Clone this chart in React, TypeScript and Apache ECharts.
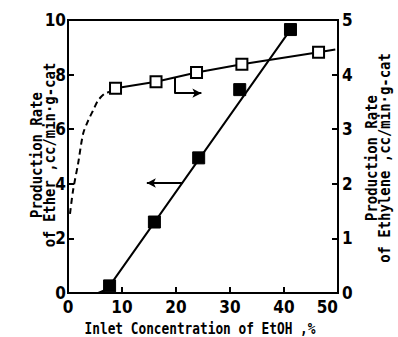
import React, { useEffect, useRef } from 'react';
import * as echarts from 'echarts';

// Inlet EtOH concentration (%) and production rates
const etherX = [7.7, 16.0, 24.2, 31.8, 41.2];
const etherY = [0.26, 2.6, 4.95, 7.45, 9.65];
const etherFitX = [5.6, 6.8, 7.7, 41.2];
const etherFitY = [0, 0.1, 0.26, 9.65];

const ethyleneX = [8.8, 16.3, 23.8, 32.2, 46.4];
const ethyleneY = [3.75, 3.87, 4.04, 4.19, 4.41];
const ethyleneLineX = [8.8, 16.3, 23.8, 32.2, 46.4, 49.5];
const ethyleneLineY = [3.75, 3.87, 4.04, 4.19, 4.41, 4.46];

const dashX = [0.37, 0.94, 1.87, 2.81, 3.75, 4.68, 5.6, 6.9, 7.9, 8.8];
const dashY = [1.45, 1.88, 2.37, 2.92, 3.16, 3.35, 3.53, 3.66, 3.69, 3.75];

const xAxisRange = [0, 50, 10];
const leftAxisRange = [0, 10, 2];
const rightAxisRange = [0, 5, 1];

const xTitle = 'Inlet Concentration of EtOH ,%';
const leftTitle = ['Production Rate', 'of Ether ,cc/min·g-cat'];
const rightTitle = ['Production Rate', 'of Ethylene ,cc/min·g-cat'];

const zip = (xs: number[], ys: number[]) => xs.map((x, i) => [x, ys[i]]);

const INK = '#000';
const tickFont = "'Liberation Sans Narrow', 'DejaVu Sans Condensed', 'Liberation Sans', sans-serif";
const monoFont = "'DejaVu Sans Mono', 'Liberation Mono', monospace";

export default function App() {
  const ref = useRef<HTMLDivElement>(null);
  useEffect(() => {
    if (!ref.current) return;
    const chart = echarts.init(ref.current, undefined, { renderer: 'svg' });
    const axisCommon = {
      axisLine: { show: true, lineStyle: { color: INK, width: 2 } },
      axisTick: { show: true, inside: true, length: 6, lineStyle: { color: INK, width: 2 } },
      splitLine: { show: false },
      axisLabel: { color: INK, fontFamily: tickFont, fontWeight: 'bold' as const, fontSize: 17 },
    };
    chart.setOption({
      animation: false,
      backgroundColor: '#fff',
      grid: { left: 68, right: 60, top: 20, bottom: 44, show: true, borderColor: INK, borderWidth: 2, backgroundColor: 'transparent' },
      xAxis: {
        type: 'value', min: xAxisRange[0], max: xAxisRange[1], interval: xAxisRange[2],
        ...axisCommon,
        axisLabel: { ...axisCommon.axisLabel, margin: 7, lineHeight: 14, alignMaxLabel: 'right' },
      },
      yAxis: [
        {
          type: 'value', min: leftAxisRange[0], max: leftAxisRange[1], interval: leftAxisRange[2],
          position: 'left',
          ...axisCommon,
          axisLabel: { ...axisCommon.axisLabel, margin: 2 },
        },
        {
          type: 'value', min: rightAxisRange[0], max: rightAxisRange[1], interval: rightAxisRange[2],
          position: 'right',
          ...axisCommon,
          axisLabel: { ...axisCommon.axisLabel, margin: 4, lineHeight: 12 },
        },
      ],
      graphic: [
        {
          type: 'text', x: 200, y: 328, scaleX: 0.8,
          style: { text: xTitle, font: `bold 16px ${monoFont}`, fill: INK, textAlign: 'center', textVerticalAlign: 'middle' },
        },
        {
          type: 'text', x: 43, y: 155, rotation: Math.PI / 2, scaleX: 0.93,
          style: { text: leftTitle.join('\n'), font: `bold 15px ${monoFont}`, lineHeight: 13, fill: INK, textAlign: 'center', textVerticalAlign: 'middle' },
        },
        {
          type: 'text', x: 378, y: 158, rotation: Math.PI / 2, scaleX: 0.93,
          style: { text: rightTitle.join('\n'), font: `bold 15px ${monoFont}`, lineHeight: 13, fill: INK, textAlign: 'center', textVerticalAlign: 'middle' },
        },
      ],
      series: [
        {
          type: 'line', yAxisIndex: 1, data: zip(dashX, dashY), smooth: 0.3, symbol: 'none',
          lineStyle: { color: INK, width: 2, type: [6, 4] }, z: 2,
        },
        {
          type: 'line', yAxisIndex: 0, data: zip(etherFitX, etherFitY), smooth: false, symbol: 'none',
          lineStyle: { color: INK, width: 2 }, z: 2,
          markLine: {
            silent: true, symbol: ['none', 'arrow'], symbolSize: [7, 9],
            label: { show: false },
            lineStyle: { color: INK, width: 2, type: 'solid' },
            data: [[{ coord: [21.3, 4.03] }, { coord: [14.6, 4.03] }]],
          },
        },
        {
          type: 'line', yAxisIndex: 1, data: zip(ethyleneLineX, ethyleneLineY), symbol: 'none',
          lineStyle: { color: INK, width: 2 }, z: 2,
          markLine: {
            silent: true, symbol: ['none', 'arrow'], symbolSize: [7, 9],
            label: { show: false },
            lineStyle: { color: INK, width: 2, type: 'solid' },
            data: [
              [{ coord: [19.7, 3.95] }, { coord: [19.7, 3.66], symbol: 'none' }],
              [{ coord: [19.7, 3.66] }, { coord: [24.7, 3.66] }],
            ],
          },
        },
        {
          type: 'scatter', yAxisIndex: 0, data: zip(etherX, etherY), symbol: 'rect', symbolSize: 12,
          itemStyle: { color: INK, borderColor: INK, borderWidth: 1, opacity: 1 }, z: 5,
        },
        {
          type: 'scatter', yAxisIndex: 1, data: zip(ethyleneX, ethyleneY), symbol: 'rect', symbolSize: 11,
          itemStyle: { color: '#fff', borderColor: INK, borderWidth: 2, opacity: 1 }, z: 5,
        },
      ],
    });
    return () => chart.dispose();
  }, []);
  return <div ref={ref} style={{ position: 'fixed', left: 0, top: 0, width: 398, height: 337, background: '#fff' }} />;
}
